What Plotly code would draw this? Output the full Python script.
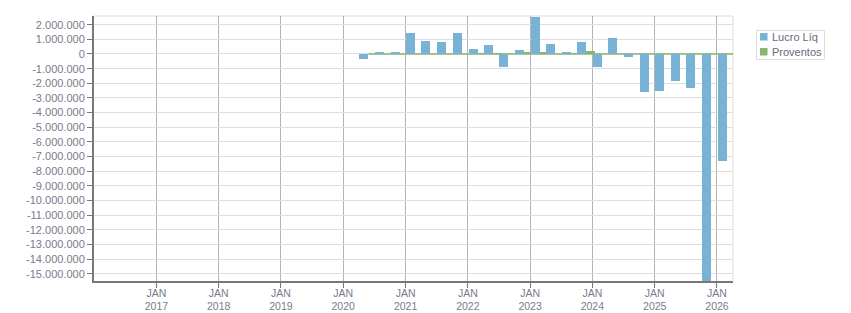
import plotly.graph_objects as go

# ---------------- data ----------------
quarter_dates = [
    "2020-05-27", "2020-08-27", "2020-11-27",
    "2021-02-27", "2021-05-27", "2021-08-27", "2021-11-27",
    "2022-02-27", "2022-05-27", "2022-08-27", "2022-11-27",
    "2023-02-27", "2023-05-27", "2023-08-27", "2023-11-27",
    "2024-02-27", "2024-05-27", "2024-08-27", "2024-11-27",
    "2025-02-27", "2025-05-27", "2025-08-27", "2025-11-27",
    "2026-02-27",
]
lucro_liq = [
    -320000, 90000, 90000,
    1430000, 890000, 820000, 1430000,
    340000, 610000, -890000, 270000,
    2520000, 680000, 90000, 820000,
    -890000, 1090000, -200000, -2590000,
    -2520000, -1840000, -2320000, -16500000,
    -7270000,
]
proventos = [
    0, 0, 0,
    0, 0, 0, 0,
    50000, 40000, 0, 100000,
    150000, 0, 50000, 200000,
    0, 0, 0, 0,
    0, 0, 0, 0,
    0,
]
year_ticks = ["2017-01-01", "2018-01-01", "2019-01-01", "2020-01-01", "2021-01-01",
              "2022-01-01", "2023-01-01", "2024-01-01", "2025-01-01", "2026-01-01"]
year_labels = ["JAN<br>2017", "JAN<br>2018", "JAN<br>2019", "JAN<br>2020", "JAN<br>2021",
               "JAN<br>2022", "JAN<br>2023", "JAN<br>2024", "JAN<br>2025", "JAN<br>2026"]
y_ticks = [2000000, 1000000, 0, -1000000, -2000000, -3000000, -4000000, -5000000,
           -6000000, -7000000, -8000000, -9000000, -10000000, -11000000, -12000000,
           -13000000, -14000000, -15000000]
y_labels = ["2.000.000", "1.000.000", "0", "-1.000.000", "-2.000.000", "-3.000.000",
            "-4.000.000", "-5.000.000", "-6.000.000", "-7.000.000", "-8.000.000",
            "-9.000.000", "-10.000.000", "-11.000.000", "-12.000.000", "-13.000.000",
            "-14.000.000", "-15.000.000"]
series_names = ["Lucro Líq", "Proventos"]

# ---------------- style ----------------
W, H = 851, 313
ML, MR, MT, MB = 94, 118, 16, 32
PW, PH = W - ML - MR, H - MT - MB
BLUE = "#78b2d5"
GREEN = "#89b56c"
TXT = "#7a7a8c"
LEG_TXT = "#6a6a80"
FONT = "Liberation Sans"
BAR_W = 52.7 * 86400000  # ms


def px_x(px):
    return (px - ML) / PW


def px_y(py):
    return (H - MB - py) / PH


fig = go.Figure()
# green drawn first so blue bars sit on top
fig.add_trace(go.Bar(x=quarter_dates, y=proventos, name=series_names[1],
                     marker=dict(color=GREEN, line=dict(width=0)),
                     width=BAR_W, offset=0, showlegend=False))
fig.add_trace(go.Bar(x=quarter_dates, y=lucro_liq, name=series_names[0],
                     marker=dict(color=BLUE, line=dict(width=0)),
                     width=BAR_W, offset=-BAR_W, showlegend=False))

shapes = [
    # plot frame (top / right)
    dict(type="line", xref="paper", yref="paper", x0=1, x1=1, y0=0, y1=1,
         line=dict(color="#dcdcdc", width=1), layer="below"),
    dict(type="line", xref="paper", yref="paper", x0=0, x1=1, y0=1, y1=1,
         line=dict(color="#dcdcdc", width=1), layer="below"),
    # zero-height "Proventos" bars render as a thin green baseline
    dict(type="line", xref="x", yref="y", x0=quarter_dates[0], x1="2026-06-01",
         y0=0, y1=0, line=dict(color=GREEN, width=1.5), layer="between"),
    # custom legend
    dict(type="rect", xref="paper", yref="paper",
         x0=px_x(756.5), x1=px_x(824.5), y0=px_y(59.5), y1=px_y(30.5),
         line=dict(color="#dddddd", width=1), fillcolor="white"),
    dict(type="rect", xref="paper", yref="paper",
         x0=px_x(760), x1=px_x(767.5), y0=px_y(40.5), y1=px_y(33),
         line=dict(width=0), fillcolor=BLUE),
    dict(type="rect", xref="paper", yref="paper",
         x0=px_x(760), x1=px_x(767.5), y0=px_y(55.5), y1=px_y(48),
         line=dict(width=0), fillcolor=GREEN),
]
annotations = [
    dict(xref="paper", yref="paper", x=px_x(769.5), y=px_y(37), xanchor="left",
         yanchor="middle", text=series_names[0], showarrow=False,
         font=dict(family=FONT, size=11, color=LEG_TXT)),
    dict(xref="paper", yref="paper", x=px_x(769.5), y=px_y(52), xanchor="left",
         yanchor="middle", text=series_names[1], showarrow=False,
         font=dict(family=FONT, size=11, color=LEG_TXT)),
]

fig.update_layout(
    width=W, height=H, autosize=False,
    margin=dict(l=ML, r=MR, t=MT, b=MB, pad=0, autoexpand=False),
    paper_bgcolor="white", plot_bgcolor="white",
    barmode="overlay", bargap=0,
    font=dict(family=FONT, size=11, color=TXT),
    showlegend=False,
    shapes=shapes, annotations=annotations,
    xaxis=dict(
        type="date", range=["2016-01-01", "2026-04-05"], automargin=False,
        tickmode="array", tickvals=year_ticks, ticktext=year_labels,
        showgrid=True, gridcolor="#b4b4b4", gridwidth=1,
        showline=True, linecolor="#777777", linewidth=2,
        ticks="outside", ticklen=5, tickcolor="#777777", tickwidth=1,
        ticklabelstandoff=-4,
        tickfont=dict(family=FONT, size=10.5, color=TXT),
        zeroline=False, fixedrange=True,
    ),
    yaxis=dict(
        range=[-15480000, 2590000], automargin=False,
        tickmode="array", tickvals=y_ticks, ticktext=y_labels,
        showgrid=True, gridcolor="#dedede", gridwidth=1,
        showline=True, linecolor="#777777", linewidth=2,
        ticks="outside", ticklen=5, tickcolor="#777777", tickwidth=1,
        tickfont=dict(family=FONT, size=11, color=TXT),
        zeroline=False, fixedrange=True,
    ),
)

fig.write_html("out.html")
